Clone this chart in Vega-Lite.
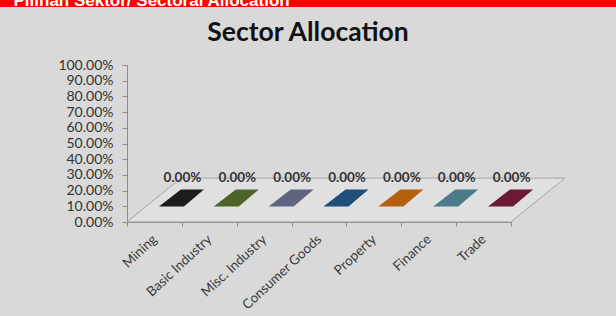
{
  "$schema": "https://vega.github.io/schema/vega-lite/v6.json",
  "width": 616,
  "height": 309,
  "autosize": {"type": "none"},
  "padding": {"top": 7, "left": 0, "right": 0, "bottom": 0},
  "background": "#ff0000",
  "config": {"view": {"fill": "#d9d9d9", "stroke": null}, "font": "Lato"},
  "title": {
    "text": "Sector Allocation",
    "font": "Lato",
    "fontSize": 26.5,
    "fontWeight": "bold",
    "color": "#111111",
    "anchor": "middle",
    "frame": "group",
    "offset": -36,
    "dy": 40,
    "baseline": "alphabetic"
  },
  "data": {
    "values": [
      {"sector": "Mining", "value": 0},
      {"sector": "Basic Industry", "value": 0},
      {"sector": "Misc. Industry", "value": 0},
      {"sector": "Consumer Goods", "value": 0},
      {"sector": "Property", "value": 0},
      {"sector": "Finance", "value": 0},
      {"sector": "Trade", "value": 0}
    ]
  },
  "encoding": {
    "x": {
      "field": "sector",
      "type": "nominal",
      "sort": null,
      "scale": {
        "type": "band",
        "domain": ["Mining", "Basic Industry", "Misc. Industry", "Consumer Goods", "Property", "Finance", "Trade"],
        "range": [127, 511],
        "paddingInner": 0,
        "paddingOuter": 0
      },
      "axis": {
        "orient": "bottom",
        "offset": -94,
        "labelAngle": -43,
        "labelAlign": "right",
        "labelBaseline": "middle",
        "labelFont": "Lato",
        "labelFontSize": 13.5,
        "labelColor": "#3a3a3a",
        "labelPadding": 11,
        "ticks": true,
        "tickBand": "extent",
        "tickSize": 4,
        "tickColor": "#8c8c8c",
        "domainColor": "#8c8c8c",
        "grid": false,
        "title": null
      }
    },
    "y": {
      "field": "value",
      "type": "quantitative",
      "scale": {"domain": [0, 1], "range": [215, 58], "nice": false, "zero": true},
      "axis": {
        "orient": "left",
        "offset": -127,
        "values": [0, 0.1, 0.2, 0.3, 0.4, 0.5, 0.6, 0.7, 0.8, 0.9, 1],
        "format": ".2%",
        "labelFont": "Lato",
        "labelFontSize": 14,
        "labelColor": "#333333",
        "labelPadding": 9,
        "tickSize": 5,
        "tickColor": "#8c8c8c",
        "domainColor": "#8c8c8c",
        "grid": false,
        "title": "Pilihan Sektor/ Sectoral Allocation",
        "titleX": -114,
        "titleY": -2,
        "titleAngle": 0,
        "titleAlign": "left",
        "titleBaseline": "alphabetic",
        "titleColor": "#ffffff",
        "titleFont": "Liberation Sans",
        "titleFontSize": 17,
        "titleFontWeight": "bold"
      }
    }
  },
  "layer": [
    {
      "data": {"values": [{"sector": "Consumer Goods", "value": 0}]},
      "mark": {
        "type": "point",
        "shape": "M -1 0.1 L 0.753 0.1 L 1 -0.1 L -0.753 -0.1 Z",
        "size": 191844,
        "filled": true,
        "fill": "#e0e0e0",
        "stroke": "#a6a6a6",
        "strokeWidth": 1,
        "opacity": 1,
        "xOffset": 27,
        "yOffset": -22
      }
    },
    {
      "mark": {
        "type": "point",
        "shape": "M -0.02 -0.38 L 1 -0.38 L 0.11 0.38 L -1 0.38 Z",
        "size": 2025,
        "filled": true,
        "opacity": 1,
        "xOffset": 27,
        "yOffset": -24
      },
      "encoding": {
        "color": {
          "field": "sector",
          "type": "nominal",
          "scale": {
            "domain": ["Mining", "Basic Industry", "Misc. Industry", "Consumer Goods", "Property", "Finance", "Trade"],
            "range": ["#1c1c1c", "#4f6228", "#5f6580", "#1f4e79", "#b3600f", "#4a7d89", "#6b1a35"]
          },
          "legend": null
        }
      }
    },
    {
      "mark": {
        "type": "text",
        "dx": 28,
        "dy": -44,
        "baseline": "middle",
        "align": "center",
        "font": "Lato",
        "fontSize": 13.5,
        "fontWeight": "bold",
        "color": "#333333"
      },
      "encoding": {
        "text": {"field": "value", "type": "quantitative", "format": ".2%"}
      }
    }
  ]
}
